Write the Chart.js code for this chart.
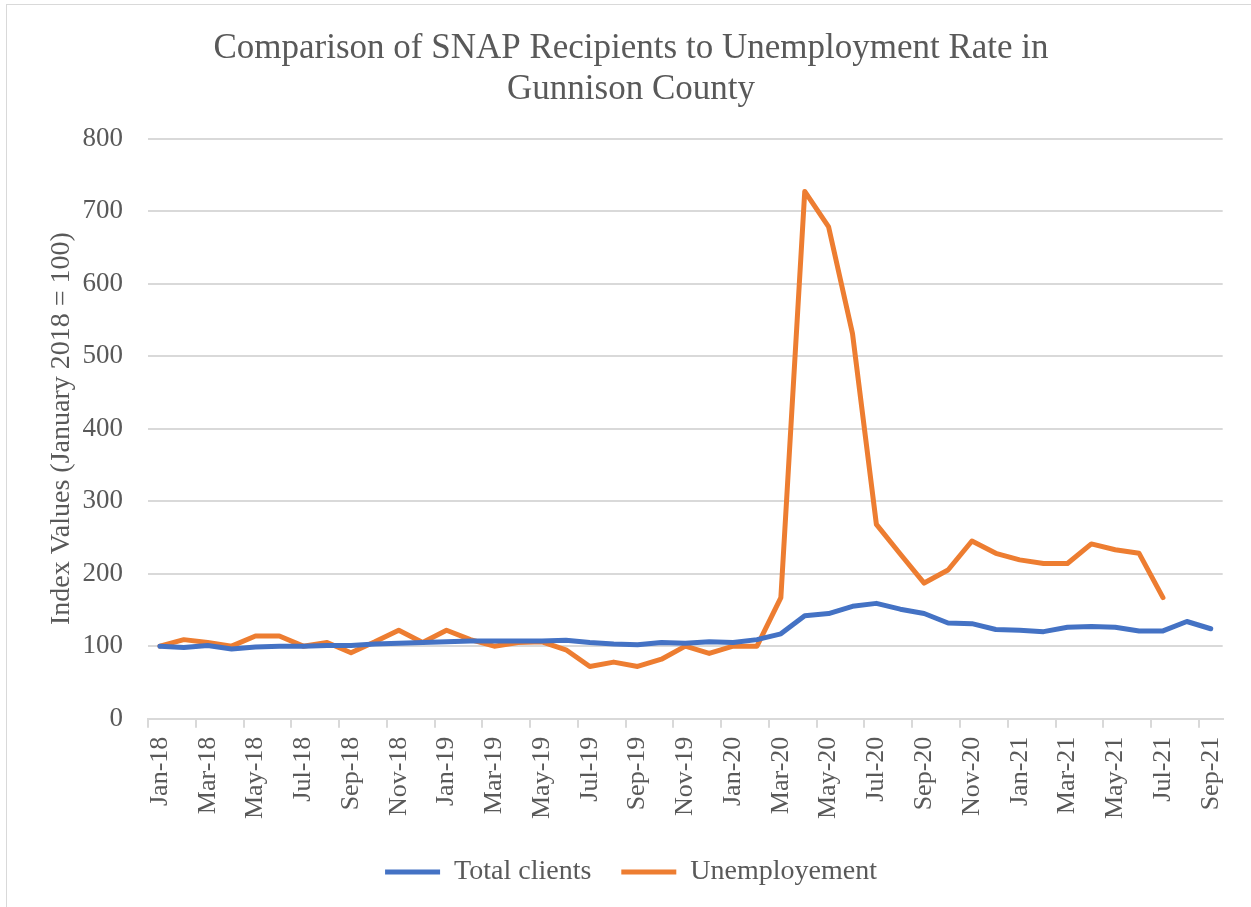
<!DOCTYPE html>
<html>
<head>
<meta charset="utf-8">
<title>SNAP Recipients vs Unemployment - Gunnison County</title>
<script src="https://cdn.jsdelivr.net/npm/chart.js@4/dist/chart.umd.min.js"></script>
<style>
    body { margin: 0; background: #fff; }
    #wrap { position: relative; width: 1251px; height: 907px; overflow: hidden; }
    #frame { position: absolute; left: 6px; top: 4px; width: 1260px; height: 920px; border: 1px solid #d9d9d9; box-sizing: border-box; }
</style>
</head>
<body>
<div id="wrap">
    <div id="frame"></div>
    <canvas id="snapChart" width="1251" height="907"></canvas>
</div>
<script>
// Months Jan-18 .. Sep-21
const months = [
    'Jan-18', 'Feb-18', 'Mar-18', 'Apr-18', 'May-18', 'Jun-18', 'Jul-18', 'Aug-18', 'Sep-18', 'Oct-18', 'Nov-18', 'Dec-18',
    'Jan-19', 'Feb-19', 'Mar-19', 'Apr-19', 'May-19', 'Jun-19', 'Jul-19', 'Aug-19', 'Sep-19', 'Oct-19', 'Nov-19', 'Dec-19',
    'Jan-20', 'Feb-20', 'Mar-20', 'Apr-20', 'May-20', 'Jun-20', 'Jul-20', 'Aug-20', 'Sep-20', 'Oct-20', 'Nov-20', 'Dec-20',
    'Jan-21', 'Feb-21', 'Mar-21', 'Apr-21', 'May-21', 'Jun-21', 'Jul-21', 'Aug-21', 'Sep-21'
];

// Index values (January 2018 = 100)
const totalClients = [
    100, 98, 101, 96, 99, 100, 100, 101, 101, 103, 104, 105,
    106, 107, 107, 107, 107, 108, 105, 103, 102, 105, 104, 106,
    105, 109, 117, 142, 145, 155, 159, 151, 145, 132, 131, 123,
    122, 120, 126, 127, 126, 121, 121, 134, 124
];

const unemployment = [
    100, 109, 105, 100, 114, 114, 100, 105, 91, 106, 122, 105,
    122, 109, 100, 105, 106, 95, 72, 78, 72, 82, 100, 90,
    100, 100, 167, 727, 678, 531, 268, 227, 187, 205, 245, 228,
    219, 214, 214, 241, 233, 228, 167, null, null
];

const yTicks = [0, 100, 200, 300, 400, 500, 600, 700, 800];

const textColor = '#595959';
const gridColor = '#d9d9d9';
const serif = "'Liberation Serif', 'Times New Roman', serif";

const ctx = document.getElementById('snapChart').getContext('2d');
const snapChart = new Chart(ctx, {
    type: 'line',
    data: {
        labels: months,
        datasets: [{
            label: 'Total clients',
            data: totalClients,
            borderColor: '#4472C4',
            backgroundColor: '#4472C4',
            borderWidth: 5,
            borderCapStyle: 'round',
            borderJoinStyle: 'round',
            pointRadius: 0,
            tension: 0,
            fill: false
        }, {
            label: 'Unemployement',
            data: unemployment,
            borderColor: '#ED7D31',
            backgroundColor: '#ED7D31',
            borderWidth: 5,
            borderCapStyle: 'round',
            borderJoinStyle: 'round',
            pointRadius: 0,
            tension: 0,
            fill: false,
            spanGaps: false
        }]
    },
    options: {
        responsive: false,
        animation: false,
        layout: {
            padding: { left: 17, right: 6, top: 29, bottom: 11 }
        },
        plugins: {
            title: {
                display: true,
                text: ['Comparison of SNAP Recipients to Unemployment Rate in', 'Gunnison County'],
                color: textColor,
                font: { family: serif, size: 35, weight: 'normal', lineHeight: 1.15 },
                padding: { top: 0, bottom: 29 }
            },
            legend: {
                position: 'bottom',
                labels: {
                    color: textColor,
                    font: { family: serif, size: 28 },
                    usePointStyle: true,
                    pointStyle: 'line',
                    pointStyleWidth: 55,
                    padding: 30
                }
            },
            tooltip: { enabled: false }
        },
        scales: {
            x: {
                offset: true,
                grid: {
                    offset: true,
                    drawOnChartArea: false,
                    drawTicks: true,
                    tickLength: 9,
                    lineWidth: 2,
                    color: (c) => (c.index !== undefined && c.index % 2 === 0) ? gridColor : 'rgba(0,0,0,0)'
                },
                border: { display: true, color: gridColor, width: 2 },
                ticks: {
                    autoSkip: false,
                    maxRotation: 90,
                    minRotation: 90,
                    padding: 9,
                    color: textColor,
                    font: { family: serif, size: 26 },
                    callback: function (val, i) { return i % 2 === 0 ? months[i] : ''; }
                }
            },
            y: {
                min: 0,
                max: 800,
                afterBuildTicks: (axis) => { axis.ticks = yTicks.map(v => ({ value: v })); },
                afterFit: (axis) => { axis.width = 131; },
                grid: { color: gridColor, lineWidth: 2, drawTicks: false },
                border: { display: false },
                ticks: {
                    padding: 25,
                    color: textColor,
                    font: { family: serif, size: 27 }
                },
                title: {
                    display: true,
                    text: 'Index Values (January 2018 = 100)',
                    color: textColor,
                    font: { family: serif, size: 28 },
                    padding: { top: 28, bottom: 4 }
                }
            }
        }
    }
});
</script>
</body>
</html>
